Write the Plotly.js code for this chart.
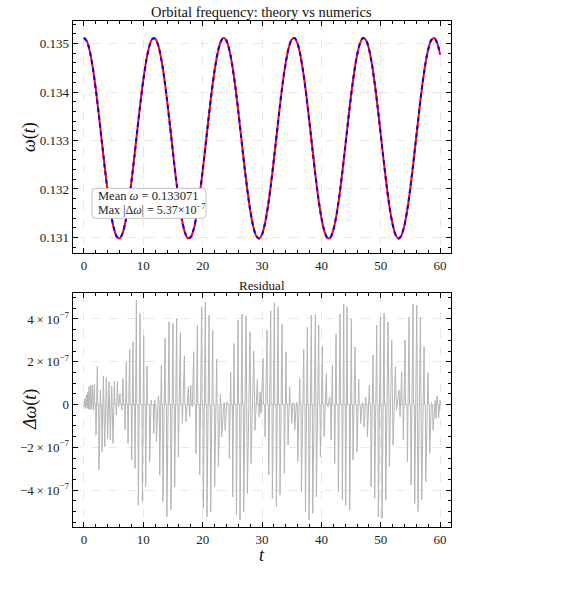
<!DOCTYPE html>
<html>
<head>
<meta charset="utf-8">
<script src="https://cdn.plot.ly/plotly-3.0.1.min.js"></script>
<style>html,body{margin:0;padding:0;background:#fff;}#chart{width:588px;height:589px;}</style>
</head>
<body>
<div id="chart"></div>
<script>
// ---- Data ----
const omegaTheory = [0.135117,0.135044,0.134830,0.134489,0.134047,0.133534,0.132986,0.132443,0.131943,0.131521,
  0.131206,0.131022,0.130981,0.131086,0.131330,0.131694,0.132155,0.132679,0.133229,0.133766,
  0.134252,0.134653,0.134940,0.135094,0.135103,0.134966,0.134694,0.134305,0.133828,0.133295,
  0.132745,0.132216,0.131745,0.131367,0.131108,0.130985,0.131009,0.131177,0.131476,0.131887,
  0.132380,0.132920,0.133469,0.133988,0.134441,0.134795,0.135025,0.135116,0.135060,0.134862,
  0.134536,0.134105,0.133598,0.133053,0.132507,0.132000,0.131565,0.131237,0.131036,0.130978,
  0.131065,0.131293,0.131645,0.132095,0.132614,0.133163,0.133703,0.134198,0.134610,0.134913,
  0.135083,0.135110,0.134990,0.134733,0.134356,0.133889,0.133361,0.132811,0.132277,0.131798,
  0.131407,0.131132,0.130993,0.130998,0.131149,0.131434,0.131833,0.132317,0.132854,0.133403,
  0.133928,0.134391,0.134758,0.135005,0.135113,0.135075,0.134893,0.134582,0.134161,0.133662,
  0.133119,0.132572,0.132057,0.131614,0.131271,0.131053,0.130977,0.131047,0.131259,0.131596,
  0.132037,0.132549,0.133096,0.133640,0.134141,0.134566,0.134883,0.135070,0.135114,0.135012,0.134771];
const omegaNumeric = omegaTheory.slice(); // differs only at the 1e-7 level
const tOmega = omegaTheory.map((_, i) => i * 0.5); // sampling grid t = 0, 0.5, ..., 60

// residual extrema (time, value in units of 1e-7)
const resT = [0.05,0.15,0.3,0.4,0.55,0.65,0.75,0.85,1.02,1.13,1.3,1.41,1.62,1.75,
 2.03,2.25,2.53,2.76,3.04,3.27,3.49,3.77,3.99,4.22,4.44,4.67,4.89,5.12,5.45,5.62,5.85,6.07,6.41,6.58,6.92,7.14,7.42,7.70,8.04,8.26,8.60,8.83,9.16,9.44,9.84,10.06,10.39,10.62,11.07,11.30,11.75,11.92,12.2,12.53,12.76,13.04,13.3,13.66,13.97,
 14.33,14.66,15.0,15.28,15.62,15.9,16.24,16.58,16.92,17.19,17.59,17.81,17.98,18.26,18.49,18.88,19.1,19.5,19.83,20.11,20.45,20.73,21.07,21.35,21.69,22.02,22.36,22.64,22.98,23.2,23.6,23.77,24.1,24.49,24.72,25.06,25.28,25.68,25.96,26.29,26.63,26.91,27.3,27.53,27.98,28.15,28.6,28.82,29.22,29.5,29.66,
 29.83,30.17,30.51,30.84,31.13,31.46,31.74,32.08,32.42,32.7,33.03,33.37,33.76,34.04,34.38,34.66,35.0,35.22,35.5,35.79,36.01,36.35,36.63,37.02,37.31,37.64,37.92,38.31,38.54,38.99,39.16,39.55,39.83,40.17,40.45,40.84,41.12,41.4,41.62,41.85,42.24,42.47,42.86,43.14,43.53,43.76,44.09,44.32,44.77,45.05,
 45.33,45.67,46.0,46.29,46.62,46.91,47.19,47.47,47.75,48.08,48.37,48.7,48.98,49.32,49.6,49.94,50.22,50.56,50.84,51.23,51.46,51.85,52.07,52.47,52.64,53.08,53.25,53.53,53.81,54.09,54.49,54.77,55.1,55.44,55.72,56.06,56.28,56.68,56.9,57.3,57.58,57.97,58.25,58.53,58.81,59.15,59.3,59.5,59.75,60.0];
const resV = [-0.1,0.3,-0.2,0.45,-0.15,0.6,-0.2,0.85,-0.25,0.9,-0.2,0.9,-0.25,0.95,
 -1.43,1.8,-3.06,0.68,-2.2,1.33,-1.97,1.27,-1.58,1.07,-1.65,0.87,-1.81,1.1,-0.49,1.07,-0.1,0.52,-0.26,1.22,-1.19,2.0,-1.81,2.58,-2.59,2.93,-2.98,4.88,-4.7,4.26,-4.54,3.25,-3.84,1.8,-2.67,0.21,-1.35,0.2,-1.73,0.4,-3.3,1.85,-4.54,3.1,-5.24,
 3.87,-4.93,3.8,-3.84,4.03,-2.44,3.36,-0.88,2.28,-0.8,0.83,-0.57,0.91,-0.1,2.47,-2.28,3.71,-3.29,4.57,-4.85,4.8,-5.24,4.18,-5.0,3.48,-3.84,2.13,-2.9,0.49,-1.5,0.1,-1.2,0.13,-2.52,1.53,-4.31,2.86,-5.16,3.95,-5.39,4.23,-5.0,4.14,-4.15,3.4,-2.75,2.5,-1.19,1.18,-0.57,0.6,
 -0.41,2.16,-1.5,3.48,-3.29,4.38,-4.38,4.76,-4.78,4.57,-4.23,3.75,-3.21,2.47,-1.89,0.83,-0.88,0.1,-1.19,0.1,-2.67,1.22,-4.07,2.58,-5.0,3.61,-5.39,4.18,-5.08,4.21,-4.31,3.71,-2.44,2.73,-1.5,1.46,-0.1,0.36,-1.65,1.85,-2.75,3.28,-4.07,4.23,-4.46,4.7,-4.7,4.57,-4.93,4.0,
 -2.59,2.7,-2.2,1.18,-0.88,0.1,-1.04,0.36,-1.5,0.91,-3.84,2.31,-4.38,3.71,-5.24,4.1,-5.32,4.26,-4.46,3.87,-2.9,3.02,-1.89,1.77,-0.26,0.68,-0.57,1.53,-1.65,3.02,-2.67,4.1,-3.76,4.7,-4.62,4.65,-5.0,4.1,-4.46,2.7,-3.6,1.49,-2.28,0.1,-1.19,0.2,-0.65,0.4,-0.6,0.2];

const xTicks = [0,10,20,30,40,50,60];
const yTicksTop = [0.131,0.132,0.133,0.134,0.135];
const yTicksTopText = ['0.131','0.132','0.133','0.134','0.135'];
const yTicksRes = [-4e-7,-2e-7,0,2e-7,4e-7];
const yTicksResText = ['\u22124\u2009\u00d7\u200910<sup>\u22127</sup>','\u22122\u2009\u00d7\u200910<sup>\u22127</sup>','0','2\u2009\u00d7\u200910<sup>\u22127</sup>','4\u2009\u00d7\u200910<sup>\u22127</sup>'];

// build residual polyline: return to zero between spike pairs
const rx = [], ry = [];
for (let i = 0; i < resT.length; i++) {
  const v = resV[i];
  if (v < 0) { rx.push(resT[i] - 0.07); ry.push(0); }
  rx.push(resT[i]); ry.push(v * 1e-7);
  if (v > 0) { rx.push(resT[i] + 0.07); ry.push(0); }
}

const W = 588, H = 589;
const FONT = 'Liberation Serif, Times New Roman, serif';
const px = v => v / W, py = v => 1 - v / H;

const axisBase = {
  showline: true, linecolor: '#000', linewidth: 1.3, mirror: 'ticks',
  ticks: 'inside', ticklen: 5, tickwidth: 1, tickcolor: '#000',
  showgrid: true, gridcolor: '#e8e8e8', griddash: 'dash', gridwidth: 1,
  zeroline: false, tickfont: {family: FONT, size: 13, color: '#222'}
};

const traces = [
  {x: tOmega, y: omegaTheory, type: 'scatter', mode: 'lines', line: {color: '#ff0000', width: 2, shape: 'spline', smoothing: 0.8}, xaxis: 'x', yaxis: 'y', hoverinfo: 'skip'},
  {x: tOmega, y: omegaNumeric, type: 'scatter', mode: 'lines', line: {color: '#0000ff', width: 2, dash: '4px,4px', shape: 'spline', smoothing: 0.8}, xaxis: 'x', yaxis: 'y', hoverinfo: 'skip'},
  {x: rx, y: ry, type: 'scatter', mode: 'lines', line: {color: '#b4b4b4', width: 1}, xaxis: 'x2', yaxis: 'y2', hoverinfo: 'skip'}
];

// rounded box behind the statistics text
const bx0 = 92, bx1 = 206, by0 = 188.3, by1 = 218.3, r = 4;
const boxPath = `M ${px(bx0 + r)} ${py(by0)} L ${px(bx1 - r)} ${py(by0)} Q ${px(bx1)} ${py(by0)} ${px(bx1)} ${py(by0 + r)} ` +
  `L ${px(bx1)} ${py(by1 - r)} Q ${px(bx1)} ${py(by1)} ${px(bx1 - r)} ${py(by1)} L ${px(bx0 + r)} ${py(by1)} ` +
  `Q ${px(bx0)} ${py(by1)} ${px(bx0)} ${py(by1 - r)} L ${px(bx0)} ${py(by0 + r)} Q ${px(bx0)} ${py(by0)} ${px(bx0 + r)} ${py(by0)} Z`;

const layout = {
  width: W, height: H, margin: {l: 0, r: 0, t: 0, b: 0},
  paper_bgcolor: '#fff', plot_bgcolor: '#fff', showlegend: false,
  font: {family: FONT, color: '#222'},
  xaxis: Object.assign({}, axisBase, {domain: [px(73), px(450.5)], range: [-1.85, 61.75], tickvals: xTicks,
    minor: {ticks: 'inside', ticklen: 3, dtick: 2, tick0: 0, tickcolor: '#000', showgrid: false}, anchor: 'y'}),
  yaxis: Object.assign({}, axisBase, {domain: [py(253), py(21)], range: [0.13068, 0.135464], tickvals: yTicksTop, ticktext: yTicksTopText,
    minor: {ticks: 'inside', ticklen: 3, dtick: 0.0002, tick0: 0.131, tickcolor: '#000', showgrid: false}, anchor: 'x'}),
  xaxis2: Object.assign({}, axisBase, {domain: [px(73), px(450.5)], range: [-1.85, 61.75], tickvals: xTicks,
    minor: {ticks: 'inside', ticklen: 3, dtick: 2, tick0: 0, tickcolor: '#000', showgrid: false}, anchor: 'y2'}),
  yaxis2: Object.assign({}, axisBase, {domain: [py(527), py(293.3)], range: [-5.72e-7, 5.2e-7], tickvals: yTicksRes, ticktext: yTicksResText,
    minor: {ticks: 'inside', ticklen: 3, dtick: 0.5e-7, tick0: 0, tickcolor: '#000', showgrid: false}, anchor: 'x2'}),
  shapes: [
    {type: 'path', xref: 'paper', yref: 'paper', path: boxPath, fillcolor: '#ffffff', line: {color: '#c4c4c4', width: 1}, layer: 'above'}
  ],
  annotations: [
    {text: 'Orbital frequency: theory vs numerics', xref: 'paper', yref: 'paper', x: px(261.75), y: py(12), xanchor: 'center', yanchor: 'middle', showarrow: false, font: {family: FONT, size: 14.5, color: '#111'}},
    {text: 'Residual', xref: 'paper', yref: 'paper', x: px(261.75), y: py(285), xanchor: 'center', yanchor: 'middle', showarrow: false, font: {family: FONT, size: 13, color: '#111'}},
    {text: '<i>ω</i>(<i>t</i>)', xref: 'paper', yref: 'paper', x: px(30), y: py(137), xanchor: 'center', yanchor: 'middle', textangle: -90, showarrow: false, font: {family: FONT, size: 18, color: '#111'}},
    {text: '<i>Δω</i>(<i>t</i>)', xref: 'paper', yref: 'paper', x: px(30), y: py(410), xanchor: 'center', yanchor: 'middle', textangle: -90, showarrow: false, font: {family: FONT, size: 18, color: '#111'}},
    {text: '<i>t</i>', xref: 'paper', yref: 'paper', x: px(261.75), y: py(555), xanchor: 'center', yanchor: 'middle', showarrow: false, font: {family: FONT, size: 18, color: '#111'}},
    {text: 'Mean <i>ω</i> = 0.133071', xref: 'paper', yref: 'paper', x: px(96), y: py(196), xanchor: 'left', yanchor: 'middle', align: 'left', showarrow: false, font: {family: FONT, size: 12.5, color: '#222'}},
    {text: 'Max |Δ<i>ω</i>| = 5.37×10<sup>−7</sup>', xref: 'paper', yref: 'paper', x: px(96), y: py(209.5), xanchor: 'left', yanchor: 'middle', align: 'left', showarrow: false, font: {family: FONT, size: 12, color: '#222'}}
  ]
};

Plotly.newPlot('chart', traces, layout, {staticPlot: true, displayModeBar: false});
</script>
</body>
</html>
